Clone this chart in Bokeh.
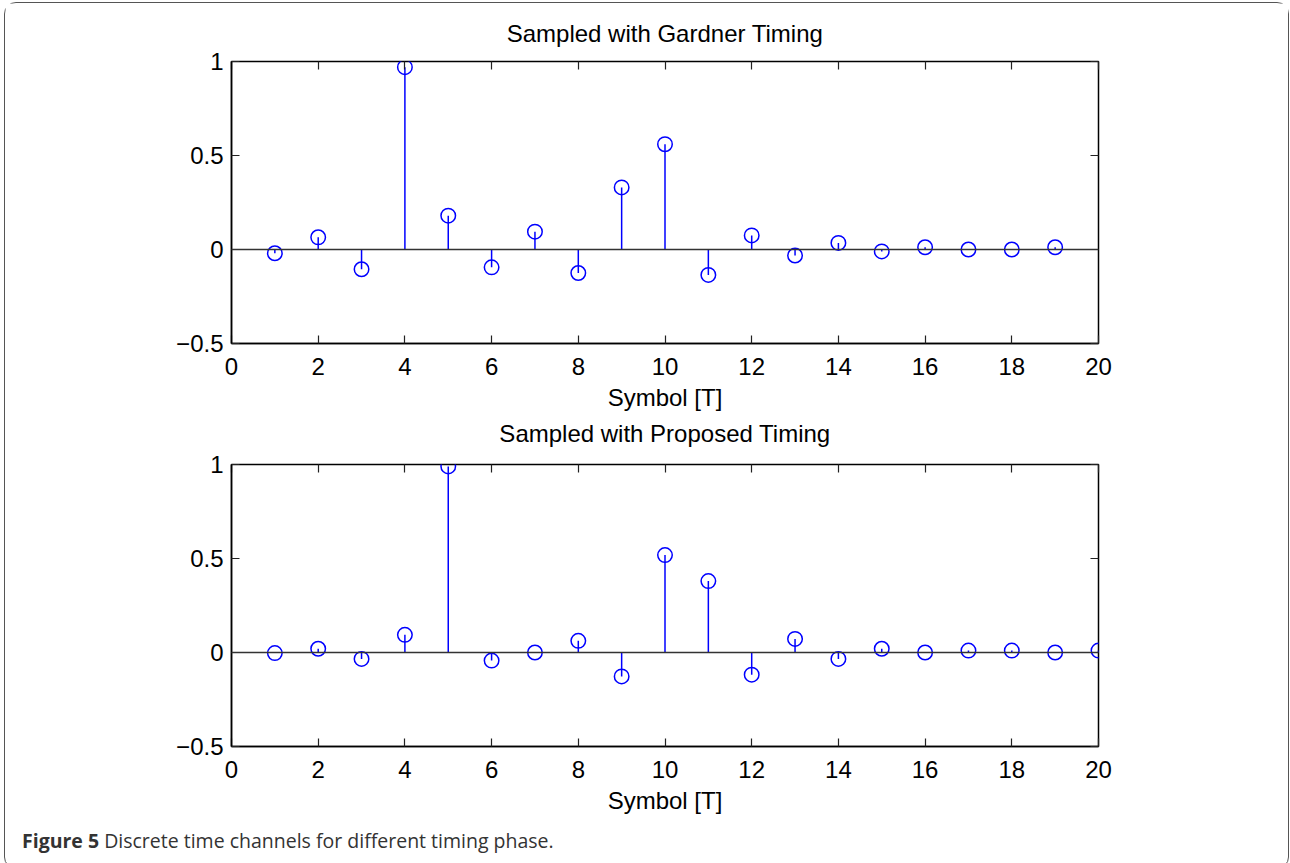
from bokeh.plotting import figure
from bokeh.layouts import column
from bokeh.models import (Range1d, FixedTicker, LinearAxis, Span, Div,
                          CustomJSTickFormatter, Title)
from bokeh.embed import file_html
from bokeh.resources import INLINE

# ---- data ----
x_ticks = [0, 2, 4, 6, 8, 10, 12, 14, 16, 18, 20]
y_ticks = [-0.5, 0, 0.5, 1]
y_tick_labels = ["\u22120.5", "0", "0.5", "1"]

gardner_sym = list(range(1, 20))
gardner_val = [-0.02, 0.065, -0.105, 0.97, 0.18, -0.095, 0.095, -0.125, 0.33, 0.56,
               -0.135, 0.075, -0.032, 0.035, -0.01, 0.012, 0.0, 0.0, 0.012]

proposed_sym = list(range(1, 21))
proposed_val = [-0.003, 0.02, -0.034, 0.094, 0.99, -0.043, 0.0, 0.062, -0.127, 0.518,
                0.38, -0.118, 0.072, -0.034, 0.02, 0.0, 0.01, 0.01, 0.0, 0.01]

titles = ["Sampled with Gardner Timing", "Sampled with Proposed Timing"]
x_label = "Symbol [T]"
caption_bold = "Figure 5"
caption_text = "Discrete time channels for different timing phase."

FONT = "Liberation Sans"
BLUE = "#0000ff"


def make_title(text, standoff):
    return Title(text=text, align="center", text_font=FONT, text_font_size="24px",
                 text_font_style="normal", text_color="black", standoff=standoff)


def make_plot(xs, ys, top_border, bottom_border):
    p = figure(frame_width=867, frame_height=282,
               x_range=Range1d(0, 20), y_range=Range1d(-0.5, 1),
               output_backend="svg", toolbar_location=None,
               min_border_left=226, min_border_right=190,
               min_border_top=top_border, min_border_bottom=bottom_border)
    p.xgrid.visible = False
    p.ygrid.visible = False
    p.outline_line_color = "black"
    p.outline_line_width = 1.5
    p.outline_line_alpha = 1.0
    p.background_fill_color = "white"
    p.border_fill_color = "white"

    for ax in p.xaxis:
        ax.ticker = FixedTicker(ticks=x_ticks)
        ax.axis_label = x_label
        ax.axis_label_text_font = FONT
        ax.axis_label_text_font_size = "24px"
        ax.axis_label_text_font_style = "normal"
        ax.axis_label_text_color = "black"
        ax.axis_label_standoff = 6
        ax.major_label_standoff = 14
    for ax in p.yaxis:
        ax.ticker = FixedTicker(ticks=y_ticks)
        ax.major_label_overrides = {float(t): s for t, s in zip(y_ticks, y_tick_labels)}
        ax.major_label_standoff = 8
    for ax in list(p.xaxis) + list(p.yaxis):
        ax.major_label_text_font = FONT
        ax.major_label_text_font_size = "24px"
        ax.major_label_text_color = "black"
        ax.major_tick_in = 8
        ax.major_tick_out = 0
        ax.minor_tick_in = 0
        ax.minor_tick_out = 0
        ax.axis_line_color = "black"
        ax.axis_line_width = 1.5
        ax.major_tick_line_color = "#222222"
        ax.major_tick_line_width = 1.2

    blank = CustomJSTickFormatter(code="return ''")
    top_ax = LinearAxis(ticker=FixedTicker(ticks=x_ticks), formatter=blank,
                        major_tick_in=8, major_tick_out=0, minor_tick_in=0, minor_tick_out=0,
                        axis_line_color=None, major_tick_line_color="#222222",
                        major_tick_line_width=1.2, major_label_standoff=0)
    right_ax = LinearAxis(ticker=FixedTicker(ticks=y_ticks), formatter=blank,
                          major_tick_in=8, major_tick_out=0, minor_tick_in=0, minor_tick_out=0,
                          axis_line_color=None, major_tick_line_color="#222222",
                          major_tick_line_width=1.2, major_label_standoff=0)
    p.add_layout(top_ax, "above")
    p.add_layout(right_ax, "right")

    p.add_layout(Span(location=0, dimension="width", line_color="#333333", line_width=1.5))
    zeros = [0] * len(xs)
    p.segment(x0=xs, y0=zeros, x1=xs, y1=ys, line_color=BLUE, line_width=1.5)
    p.scatter(x=xs, y=ys, marker="circle", size=14.5, fill_color=None,
              line_color=BLUE, line_width=1.5)
    return p


p1 = make_plot(gardner_sym, gardner_val, 20, 0)
p1.add_layout(make_title(titles[0], 29), "above")
# the lower panel's title sits in the strip between the two panels
p1.add_layout(make_title(titles[1], 8), "below")

p2 = make_plot(proposed_sym, proposed_val, 14, 76)

cap = Div(text=f'<span style="font-weight:bold">{caption_bold}</span> {caption_text}',
          width=1270, height=36,
          styles={"font-family": "Open Sans", "font-size": "19.5px", "color": "#333333",
                  "line-height": "20px",
                  "padding-left": "12px", "padding-top": "4px"})

layout = column(p1, p2, cap, spacing=0,
                styles={"border": "1.5px solid #555555", "border-radius": "12px",
                        "background-color": "white", "margin-left": "4px",
                        "margin-top": "2px"})

open("out.html", "w").write(file_html(layout, INLINE))
